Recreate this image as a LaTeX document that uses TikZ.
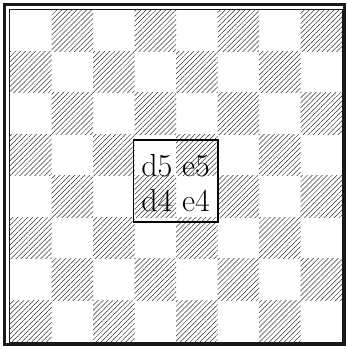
\documentclass[tikz,border=0pt]{standalone}
\usetikzlibrary{patterns.meta}
\begin{document}
\begin{tikzpicture}[x=1pt,y=1pt,
  darksq/.style={pattern={Lines[angle=45,distance=3.5pt,line width=0.5pt]},pattern color=black!80},
  thickframe/.style={draw=black!90,line width=2.8pt},
  thinframe/.style={draw=black!90,line width=1pt},
  centrebox/.style={draw,line width=1.2pt,minimum width=84.5pt,minimum height=82pt,inner sep=0pt},
  centretext/.style={inner sep=0pt,align=center,font=\fontsize{32}{35}\selectfont}]
\useasboundingbox (0,0) rectangle (347,349);
\foreach \c in {0,...,7}{
  \foreach \r in {0,...,7}{
    \pgfmathtruncatemacro\parity{mod(\c+\r,2)}
    \ifnum\parity=0
      \fill[darksq] ({10+41.5*\c},{7+41.5*\r}) rectangle ++(41.5,41.5);
    \fi
  }
}
\draw[thinframe] (9.3,6.5) rectangle (342.2,339.7);
\draw[thickframe] (4.5,4.3) rectangle (344.5,344.5);
\node[centrebox] (box) at (175.75,168) {};
\node[centretext] (txt) at (175.5,165.8) {d5 e5\\d4 e4};
\end{tikzpicture}
\end{document}
